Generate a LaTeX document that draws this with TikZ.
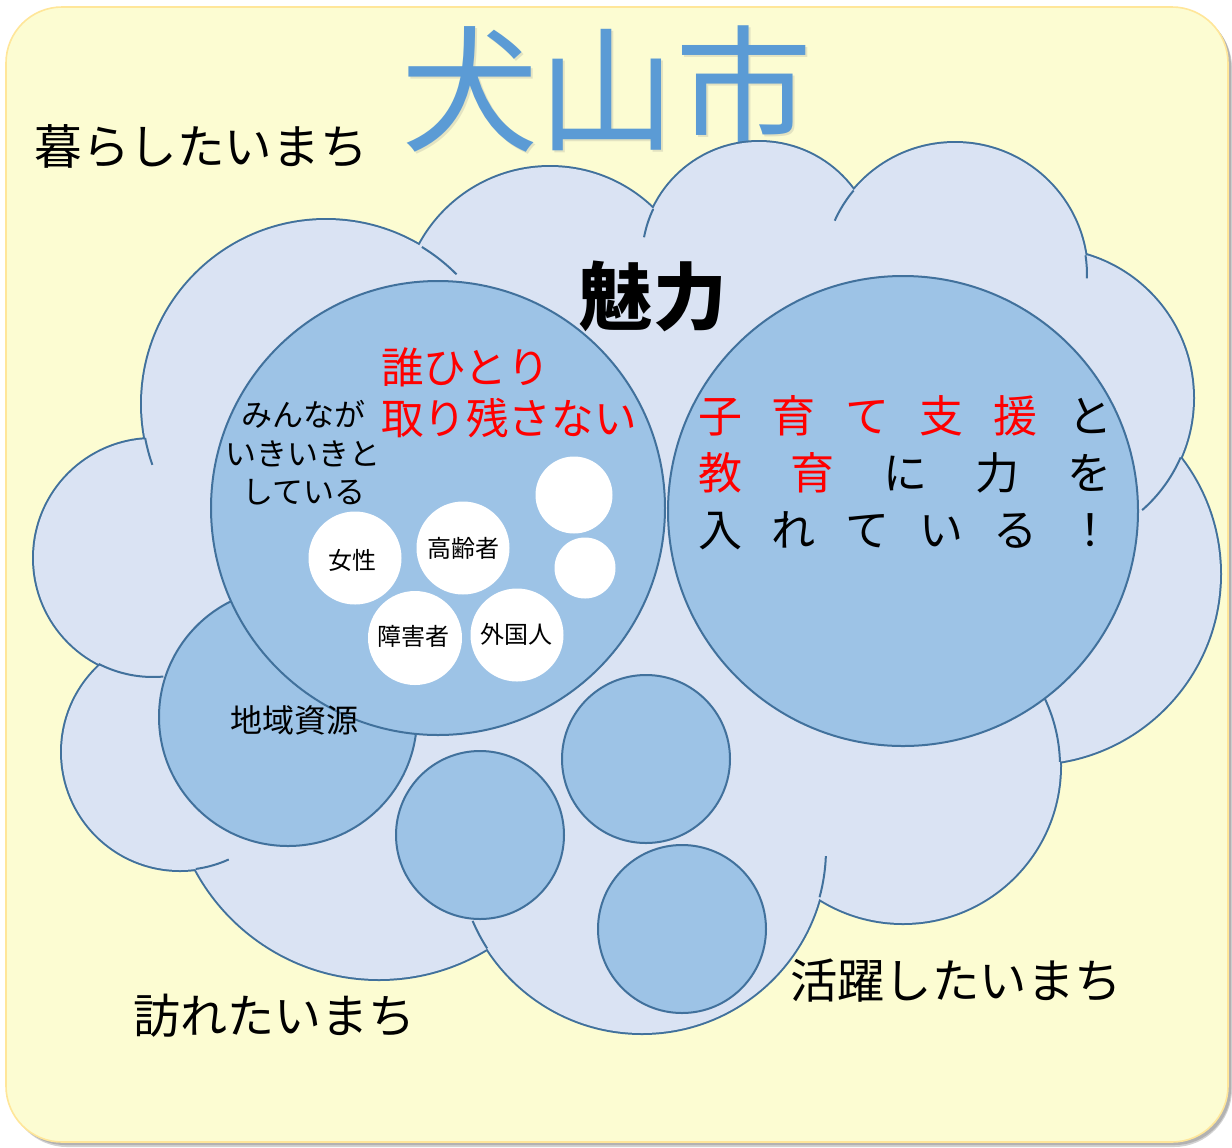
\documentclass[tikz,border=0pt]{standalone}
\usepackage{fontspec}
\setmainfont{Noto Sans CJK JP}
\definecolor{bgy}{HTML}{FCFCD2}
\definecolor{bgedge}{HTML}{FFE699}
\definecolor{cloudfill}{HTML}{DAE3F3}
\definecolor{edgeblue}{HTML}{41719C}
\definecolor{bubblefill}{HTML}{9DC3E6}
\definecolor{titleblue}{HTML}{5B9BD5}
\definecolor{jpred}{HTML}{FF0000}
\tikzset{
  jp/.style={inner sep=0pt, outer sep=0pt, anchor=center, text=black},
  lobeline/.style={draw=edgeblue, line width=2pt},
  lobefill/.style={fill=cloudfill},
  tail/.style={draw=edgeblue, line width=1pt},
  bubble/.style={fill=bubblefill, draw=edgeblue, line width=1pt},
  whitedot/.style={fill=white},
}
\begin{document}
\begin{tikzpicture}[x=0.5pt,y=-0.5pt]
\useasboundingbox (0,0) rectangle (1232,1147);
\fill[white] (0,0) rectangle (1232,1147);
% frame with shadow
\fill[gray!35, rounded corners=29pt] (9,10) rectangle (1232,1147);
\fill[gray!60, rounded corners=28pt] (9,10) rectangle (1231,1145);
\filldraw[fill=bgy, draw=bgedge, line width=0.8pt, rounded corners=28pt] (6,7) rectangle (1228,1142);

% title
\node[jp, text=gray, opacity=0.2, font=\fontsize{68.5}{72}\selectfont] (titleshadow) at (609,91.5) {犬山市};
\node[jp, text=titleblue, font=\fontsize{68.5}{72}\selectfont] (title) at (607,89) {犬山市};

% cloud: outline strokes, then fills
\foreach \cx/\cy/\r in {326/404/184, 550/315/148, 759/259/117, 955/275/132, 1044/398/149, 1030/574/190, 903/766/157, 642/849/184, 379/771/208, 180/752/118, 153/558/119}{
  \draw[lobeline] (\cx,\cy) circle (\r);
}
\foreach \cx/\cy/\r in {326/404/184, 550/315/148, 759/259/117, 955/275/132, 1044/398/149, 1030/574/190, 903/766/157, 642/849/184, 379/771/208, 180/752/118, 153/558/119}{
  \fill[lobefill] (\cx,\cy) circle (\r);
}
\fill[lobefill] (326,404) -- (550,315) -- (759,259) -- (955,275) -- (1044,398) -- (1030,574) -- (903,766) -- (642,849) -- (379,771) -- (180,752) -- (153,558) -- cycle;
% inner tails of the cloud
\foreach \cx/\cy/\r/\a/\b in {326/404/184/169.4/160.7, 326/404/184/-58.6/-44.8, 759/259/117/205.3/190.7, 955/275/132/219.8/204.3, 955/275/132/-8.6/1.5, 1044/398/149/23.5/48.8, 903/766/157/-1.5/-25.3, 642/849/184/15.2/2.2, 642/849/184/147.3/157, 180/752/118/82.3/65.6, 153/558/119/117.2/85}{
  \draw[tail] (\cx,\cy) ++(\a:\r) arc[start angle=\a, end angle=\b, radius=\r];
}

% blue circles
\draw[bubble] (288,717) circle (129);
\draw[bubble] (438,508) circle (227);
\draw[bubble] (903,511) circle (235);
\draw[bubble] (646,759) circle (84);
\draw[bubble] (480,835) circle (84);
\draw[bubble] (682,929) circle (84);

% white circles
\fill[whitedot] (355,558) circle (46.5);
\fill[whitedot] (463,548) circle (46.5);
\fill[whitedot] (415,638) circle (47);
\fill[whitedot] (517,635) circle (46.5);
\fill[whitedot] (574,495) circle (38.5);
\fill[whitedot] (585,568) circle (30.5);

% texts
\node[jp, font=\fontsize{23.8}{28}\selectfont] (kurashi) at (201,146) {暮らしたいまち};
\node[jp, font=\fontsize{23.5}{28}\selectfont] (otozure) at (274,1016) {訪れたいまち};
\node[jp, font=\fontsize{23.7}{28}\selectfont] (katsuyaku) at (956,981) {活躍したいまち};
\node[jp, font=\fontsize{36.8}{40}\selectfont\bfseries] (miryoku) at (653,296) {魅力};

\node[jp, anchor=west, text=jpred, font=\fontsize{21.3}{25}\selectfont] (dare) at (381,367) {誰ひとり};
\node[jp, anchor=west, text=jpred, font=\fontsize{21.3}{25}\selectfont] (torinokosa) at (381,418) {取り残さない};

\node[jp, font=\fontsize{15.5}{18}\selectfont] (minna1) at (303,414) {みんなが};
\node[jp, font=\fontsize{15.5}{18}\selectfont] (minna2) at (303,454) {いきいきと};
\node[jp, font=\fontsize{15.5}{18}\selectfont] (minna3) at (304,492) {している};

\node[jp, font=\fontsize{12}{14}\selectfont] (josei) at (352,560) {女性};
\node[jp, font=\fontsize{12}{14}\selectfont] (koureisha) at (463,548) {高齢者};
\node[jp, font=\fontsize{12}{14}\selectfont] (shougaisha) at (413,636) {障害者};
\node[jp, font=\fontsize{12}{14}\selectfont] (gaikokujin) at (516,634) {外国人};

\node[jp, font=\fontsize{16}{18}\selectfont] (chiiki) at (294.5,720) {地域資源};

\node[jp, font=\fontsize{22}{26}\selectfont] (kosodate1) at (905,416) {\makebox[207pt]{\textcolor{jpred}{子\hfill 育\hfill て\hfill 支\hfill 援}\hfill と}};
\node[jp, font=\fontsize{22}{26}\selectfont] (kosodate2) at (905,473) {\makebox[207pt]{\textcolor{jpred}{教\hfill 育}\hfill に\hfill 力\hfill を}};
\node[jp, font=\fontsize{22}{26}\selectfont] (kosodate3) at (905,531) {\makebox[207pt]{入\hfill れ\hfill て\hfill い\hfill る\hfill ！}};
\end{tikzpicture}
\end{document}
